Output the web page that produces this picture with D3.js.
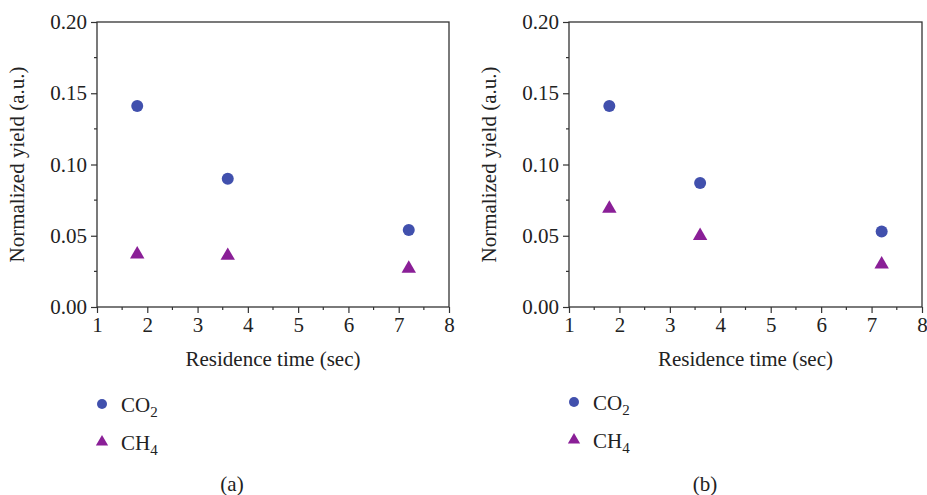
<!DOCTYPE html>
<html>
<head>
<meta charset="utf-8">
<script src="https://cdn.jsdelivr.net/npm/d3@7"></script>
<style>
body { margin: 0; background: #fff; }
svg { display: block; }
text { font-family: "Liberation Serif", "Times New Roman", serif; fill: #222; }
</style>
</head>
<body>
<div id="chart"></div>
<script>
var width = 927, height = 495;

var times = [1.8, 3.6, 7.2];
var co2A = [0.141, 0.090, 0.054];
var ch4A = [0.037, 0.036, 0.027];
var co2B = [0.141, 0.087, 0.053];
var ch4B = [0.069, 0.050, 0.030];
var xTicks = [1, 2, 3, 4, 5, 6, 7, 8];
var yTicks = [0, 0.05, 0.10, 0.15, 0.20];

var circleColor = '#4150ad';
var triColor = '#8a1f97';
var axisColor = '#333';

var svg = d3.select('#chart').append('svg')
	.attr('width', width)
	.attr('height', height);

var panels = [
	{left: 97, right: 449, co2: co2A, ch4: ch4A, label: '(a)', legX: 102, legY: 404, capX: 232},
	{left: 569, right: 922, co2: co2B, ch4: ch4B, label: '(b)', legX: 574, legY: 402, capX: 705}
];
var plotTop = 22, plotBottom = 307;
var fs = '21px';

var triangle = d3.symbol().type(d3.symbolTriangle);

panels.forEach(function(p){
	var x = d3.scaleLinear().domain([1, 8]).range([p.left, p.right]);
	var y = d3.scaleLinear().domain([0, 0.2]).range([plotBottom, plotTop]);
	var g = svg.append('g');

	// frame
	g.append('rect')
		.attr('x', p.left).attr('y', plotTop)
		.attr('width', p.right - p.left).attr('height', plotBottom - plotTop)
		.attr('fill', 'none').attr('stroke', axisColor).attr('stroke-width', 1.3);

	// minor ticks
	var xMinor = d3.range(1.5, 8, 1);
	var yMinor = [0.025, 0.075, 0.125, 0.175];
	g.selectAll('.xm').data(xMinor).enter().append('line')
		.attr('x1', d => x(d)).attr('x2', d => x(d))
		.attr('y1', plotBottom).attr('y2', plotBottom + 3)
		.attr('stroke', axisColor).attr('stroke-width', 1.2);
	g.selectAll('.ym').data(yMinor).enter().append('line')
		.attr('y1', d => y(d)).attr('y2', d => y(d))
		.attr('x1', p.left).attr('x2', p.left - 3)
		.attr('stroke', axisColor).attr('stroke-width', 1.2);

	var xAxis = d3.axisBottom(x).tickValues(xTicks).tickSize(6).tickPadding(4).tickFormat(d3.format('d'));
	var yAxis = d3.axisLeft(y).tickValues(yTicks).tickSize(6).tickPadding(4).tickFormat(d3.format('.2f'));

	var gx = g.append('g').attr('transform', 'translate(0,' + plotBottom + ')').call(xAxis);
	var gy = g.append('g').attr('transform', 'translate(' + p.left + ',0)').call(yAxis);
	[gx, gy].forEach(function(a){
		a.select('.domain').remove();
		a.selectAll('line').attr('stroke', axisColor).attr('stroke-width', 1.2);
		a.selectAll('text').style('font-family', '"Liberation Serif", serif').style('font-size', fs).attr('fill', '#222');
	});

	g.append('text')
		.attr('x', (p.left + p.right) / 2).attr('y', 366)
		.attr('text-anchor', 'middle').style('font-size', fs)
		.text('Residence time (sec)');

	g.append('text')
		.attr('transform', 'translate(' + (p.left - 73) + ',' + ((plotTop + plotBottom) / 2) + ') rotate(-90)')
		.attr('text-anchor', 'middle').style('font-size', fs)
		.text('Normalized yield (a.u.)');

	// points
	g.selectAll('.co2').data(times).enter().append('circle')
		.attr('cx', d => x(d)).attr('cy', (d, i) => y(p.co2[i]))
		.attr('r', 6).attr('fill', circleColor);
	g.selectAll('.ch4').data(times).enter().append('path')
		.attr('d', triangle.size(90))
		.attr('transform', (d, i) => 'translate(' + x(d) + ',' + y(p.ch4[i]) + ')')
		.attr('fill', triColor);

	// legend
	g.append('circle').attr('cx', p.legX).attr('cy', p.legY).attr('r', 5).attr('fill', circleColor);
	var t1 = g.append('text').attr('x', p.legX + 19).attr('y', p.legY + 8).style('font-size', fs);
	t1.append('tspan').text('CO');
	t1.append('tspan').attr('dy', 5).style('font-size', '15px').text('2');

	g.append('path').attr('d', triangle.size(65))
		.attr('transform', 'translate(' + p.legX + ',' + (p.legY + 38) + ')')
		.attr('fill', triColor);
	var t2 = g.append('text').attr('x', p.legX + 19).attr('y', p.legY + 46).style('font-size', fs);
	t2.append('tspan').text('CH');
	t2.append('tspan').attr('dy', 5).style('font-size', '15px').text('4');

	g.append('text')
		.attr('x', p.capX).attr('y', 491)
		.attr('text-anchor', 'middle').style('font-size', fs)
		.text(p.label);
});
</script>
</body>
</html>
